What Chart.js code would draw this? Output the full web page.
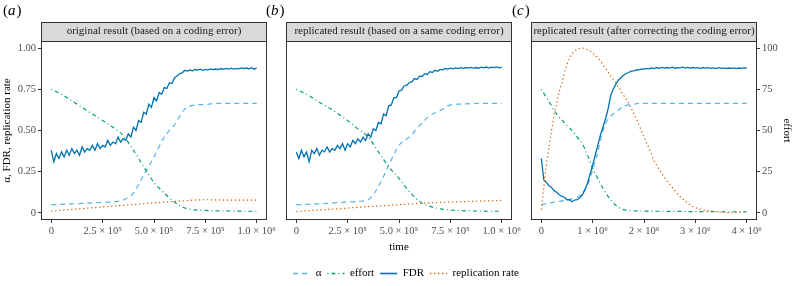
<!DOCTYPE html>
<html>
<head>
<meta charset="utf-8">
<script src="https://cdn.jsdelivr.net/npm/chart.js@4.4.1/dist/chart.umd.min.js"></script>
<style>
  html, body { margin: 0; padding: 0; background: #fff; overflow: hidden; }
  #wrap { position: relative; width: 793px; height: 286px; }
  canvas { position: absolute; left: 0; top: 0; }
</style>
</head>
<body>
<div id="wrap">
  <canvas id="panelA" width="793" height="286"></canvas>
  <canvas id="panelB" width="793" height="286"></canvas>
  <canvas id="panelC" width="793" height="286"></canvas>
  <canvas id="legendBox" width="793" height="60" style="top:240px"></canvas>
</div>
<script>
// ---- data (time in thousands) ----
var timeCoarseAB = [0, 50, 100, 150, 200, 250, 300, 350, 400, 450, 500, 550, 600, 650, 700, 750, 800, 850, 900, 950, 1000];
var timeFineAB = [0, 12.5, 25, 37.5, 50, 62.5, 75, 87.5, 100, 112.5, 125, 137.5, 150, 162.5, 175, 187.5, 200, 212.5, 225, 237.5,
  250, 262.5, 275, 287.5, 300, 312.5, 325, 337.5, 350, 362.5, 375, 387.5, 400, 412.5, 425, 437.5, 450, 462.5, 475, 487.5,
  500, 512.5, 525, 537.5, 550, 562.5, 575, 587.5, 600, 612.5, 625, 637.5, 650, 662.5, 675, 687.5, 700, 712.5, 725, 737.5,
  750, 762.5, 775, 787.5, 800, 812.5, 825, 837.5, 850, 862.5, 875, 887.5, 900, 912.5, 925, 937.5, 950, 962.5, 975, 987.5, 1000];
var timeCoarseC = [0, 100, 200, 300, 400, 500, 600, 700, 800, 900, 1000, 1100, 1200, 1300, 1400, 1500, 1600, 1700, 1800, 1900,
  2000, 2100, 2200, 2300, 2400, 2500, 2600, 2700, 2800, 2900, 3000, 3100, 3200, 3300, 3400, 3500, 3600, 3700, 3800, 3900, 4000];
var timeFineC = [0, 50, 100, 150, 200, 250, 300, 350, 400, 450, 500, 550, 600, 650, 700, 750, 800, 850, 900, 950,
  1000, 1050, 1100, 1150, 1200, 1250, 1300, 1350, 1400, 1450, 1500, 1550, 1600, 1650, 1700, 1750, 1800, 1850, 1900, 1950,
  2000, 2050, 2100, 2150, 2200, 2250, 2300, 2350, 2400, 2450, 2500, 2550, 2600, 2650, 2700, 2750, 2800, 2850, 2900, 2950,
  3000, 3050, 3100, 3150, 3200, 3250, 3300, 3350, 3400, 3450, 3500, 3550, 3600, 3650, 3700, 3750, 3800, 3850, 3900, 3950, 4000];

// (a) original result
var alphaA = [0.050, 0.052, 0.055, 0.058, 0.061, 0.064, 0.068, 0.078, 0.12, 0.23, 0.34, 0.46, 0.535, 0.63, 0.655, 0.658, 0.664, 0.665, 0.665, 0.665, 0.665];
var effortA = [0.75, 0.72, 0.68, 0.64, 0.60, 0.56, 0.52, 0.47, 0.38, 0.28, 0.185, 0.12, 0.065, 0.03, 0.018, 0.015, 0.013, 0.012, 0.011, 0.01, 0.01];
var repA = [0.01, 0.016, 0.021, 0.026, 0.031, 0.036, 0.041, 0.046, 0.051, 0.056, 0.061, 0.066, 0.07, 0.074, 0.078, 0.08, 0.079, 0.078, 0.078, 0.078, 0.078];
var fdrA = [0.38, 0.31, 0.36, 0.33, 0.37, 0.34, 0.38, 0.35, 0.39, 0.36,
  0.38, 0.35, 0.40, 0.37, 0.39, 0.38, 0.41, 0.38, 0.42, 0.39,
  0.41, 0.40, 0.44, 0.41, 0.43, 0.42, 0.46, 0.43, 0.45, 0.44,
  0.48, 0.46, 0.52, 0.50, 0.56, 0.55, 0.61, 0.60, 0.66, 0.64,
  0.70, 0.68, 0.73, 0.72, 0.76, 0.755, 0.79, 0.785, 0.82, 0.83,
  0.845, 0.85, 0.865, 0.86, 0.868, 0.862, 0.870, 0.866, 0.872, 0.865,
  0.871, 0.868, 0.874, 0.869, 0.873, 0.870, 0.876, 0.871, 0.877, 0.872,
  0.878, 0.873, 0.877, 0.874, 0.880, 0.875, 0.879, 0.874, 0.881, 0.872, 0.878];

// (b) replicated result, same coding error
var alphaB = [0.05, 0.052, 0.055, 0.058, 0.062, 0.066, 0.07, 0.08, 0.16, 0.29, 0.41, 0.46, 0.53, 0.59, 0.62, 0.655, 0.66, 0.663, 0.665, 0.665, 0.665];
var effortB = [0.75, 0.72, 0.68, 0.645, 0.605, 0.56, 0.51, 0.46, 0.37, 0.28, 0.21, 0.13, 0.07, 0.04, 0.025, 0.018, 0.014, 0.012, 0.011, 0.01, 0.01];
var repB = [0.008, 0.013, 0.017, 0.021, 0.025, 0.029, 0.034, 0.038, 0.042, 0.046, 0.05, 0.054, 0.058, 0.061, 0.064, 0.066, 0.068, 0.07, 0.072, 0.074, 0.076];
var fdrB = [0.37, 0.33, 0.38, 0.34, 0.37, 0.31, 0.38, 0.36, 0.39, 0.35,
  0.38, 0.37, 0.40, 0.37, 0.39, 0.38, 0.41, 0.39, 0.42, 0.38,
  0.42, 0.40, 0.44, 0.42, 0.45, 0.43, 0.46, 0.44, 0.48, 0.46,
  0.51, 0.50, 0.55, 0.54, 0.60, 0.59, 0.65, 0.655, 0.70, 0.70,
  0.74, 0.745, 0.77, 0.775, 0.79, 0.795, 0.815, 0.81, 0.83, 0.828,
  0.845, 0.84, 0.857, 0.852, 0.866, 0.86, 0.871, 0.868, 0.876, 0.872,
  0.878, 0.874, 0.88, 0.876, 0.881, 0.877, 0.882, 0.878, 0.883, 0.879,
  0.882, 0.878, 0.884, 0.88, 0.885, 0.879, 0.884, 0.881, 0.886, 0.88, 0.884];

// (c) replicated result, coding error corrected
var alphaC = [0.05, 0.056, 0.062, 0.068, 0.073, 0.078, 0.085, 0.095, 0.12, 0.17, 0.26, 0.37, 0.50, 0.57, 0.60, 0.625, 0.645, 0.655, 0.66, 0.664,
  0.665, 0.665, 0.665, 0.665, 0.665, 0.665, 0.665, 0.665, 0.665, 0.665, 0.665, 0.665, 0.665, 0.665, 0.665, 0.665, 0.665, 0.665, 0.665, 0.665, 0.665];
var effortC = [0.75, 0.70, 0.65, 0.60, 0.565, 0.53, 0.50, 0.46, 0.42, 0.35, 0.27, 0.21, 0.15, 0.10, 0.06, 0.035, 0.02, 0.015, 0.013, 0.012,
  0.011, 0.011, 0.01, 0.01, 0.01, 0.009, 0.009, 0.009, 0.009, 0.008, 0.008, 0.008, 0.008, 0.008, 0.007, 0.007, 0.007, 0.007, 0.007, 0.007, 0.007];
var repC = [0.02, 0.29, 0.50, 0.67, 0.79, 0.90, 0.965, 0.993, 1.0, 0.99, 0.97, 0.94, 0.90, 0.855, 0.81, 0.765, 0.715, 0.665, 0.605, 0.535,
  0.46, 0.39, 0.315, 0.26, 0.215, 0.175, 0.135, 0.10, 0.072, 0.048, 0.032, 0.022, 0.015, 0.011, 0.007, 0.004, 0.002, 0.001, 0.002, 0.004, 0.005];
var fdrC = [0.33, 0.20, 0.185, 0.165, 0.155, 0.135, 0.125, 0.11, 0.10, 0.095,
  0.08, 0.08, 0.068, 0.078, 0.08, 0.092, 0.11, 0.14, 0.18, 0.235,
  0.29, 0.35, 0.41, 0.47, 0.52, 0.57, 0.63, 0.71, 0.75, 0.78,
  0.805, 0.82, 0.835, 0.846, 0.852, 0.86, 0.862, 0.867, 0.868, 0.872,
  0.873, 0.877, 0.874, 0.88, 0.876, 0.882, 0.877, 0.883, 0.878, 0.882,
  0.879, 0.884, 0.878, 0.882, 0.88, 0.884, 0.879, 0.883, 0.878, 0.882,
  0.879, 0.881, 0.877, 0.882, 0.878, 0.881, 0.877, 0.88, 0.876, 0.881,
  0.877, 0.88, 0.876, 0.879, 0.877, 0.88, 0.876, 0.879, 0.877, 0.88, 0.878];

var seriesNames = ['α', 'effort', 'FDR', 'replication rate'];
var yTicks = [0, 0.25, 0.5, 0.75, 1];
var yTickLabels = ['0', '0.25', '0.50', '0.75', '1.00'];
var effortTicks = [0, 25, 50, 75, 100];
var effortTickLabels = ['0', '25', '50', '75', '100'];
var xTicksAB = [0, 250000, 500000, 750000, 1000000];
var xTickLabelsAB = ['0', '2.5 × 10⁵', '5.0 × 10⁵', '7.5 × 10⁵', '1.0 × 10⁶'];
var xTicksC = [0, 1000000, 2000000, 3000000, 4000000];
var xTickLabelsC = ['0', '1 × 10⁶', '2 × 10⁶', '3 × 10⁶', '4 × 10⁶'];

// ---- look ----
var col = { alpha: '#56B4E9', effort: '#009E73', fdr: '#0072B2', rep: '#D55E00' };
var dash = { alpha: [5, 4], effort: [1, 3, 4, 3], fdr: [], rep: [1.3, 2.7] };

Chart.defaults.font.family = '"Liberation Serif", "DejaVu Serif", serif';
Chart.defaults.font.size = 10.5;
Chart.defaults.color = '#4d4d4d';

function pts(times, vals) {
  return times.map(function (t, i) { return { x: t * 1000, y: vals[i] }; });
}

function lineSet(key, label, data, smooth) {
  return {
    label: label, data: data,
    borderColor: col[key], backgroundColor: col[key],
    borderDash: dash[key], borderWidth: key === 'fdr' ? 1.3 : 1.2,
    pointRadius: 0, fill: false,
    tension: 0, cubicInterpolationMode: smooth ? 'monotone' : 'default'
  };
}

var tickGrid = { display: true, drawOnChartArea: false, drawTicks: true, tickLength: 3, color: '#333333', lineWidth: 1 };

function xScale(min, max, vals, labels, title) {
  return {
    type: 'linear', min: min, max: max,
    afterBuildTicks: function (s) { s.ticks = vals.map(function (v) { return { value: v }; }); },
    afterFit: function (s) { s.height = title ? 34 : 20; },
    grid: tickGrid, border: { display: false },
    ticks: { autoSkip: false, maxRotation: 0, padding: 2, callback: function (v, i) { return labels[i]; } },
    title: { display: !!title, text: title || '', color: '#000', font: { size: 11 }, padding: { top: 2, bottom: 0 } }
  };
}

function yScale(show) {
  return {
    display: show, min: -0.043, max: 1.043,
    afterBuildTicks: function (s) { s.ticks = yTicks.map(function (v) { return { value: v }; }); },
    afterFit: function (s) { s.width = show ? 41 : 0; },
    grid: tickGrid, border: { display: false },
    ticks: { padding: 2, callback: function (v, i) { return yTickLabels[i]; } },
    title: { display: true, text: 'α, FDR, replication rate', color: '#000', font: { size: 11 }, padding: { top: 1, bottom: 0 } }
  };
}

// panel frame, grey strip and (a)/(b)/(c) tag
var panelFrame = {
  id: 'panelFrame',
  afterDraw: function (chart, args, opts) {
    var ctx = chart.ctx, a = chart.chartArea;
    ctx.save();
    ctx.strokeStyle = '#333333';
    ctx.lineWidth = 1;
    ctx.strokeRect(a.left + 0.5, a.top + 0.5, a.width - 1, a.height - 1);
    ctx.fillStyle = '#d9d9d9';
    ctx.fillRect(a.left, a.top - 19, a.width, 19);
    ctx.strokeRect(a.left + 0.5, a.top - 18.5, a.width - 1, 19);
    ctx.fillStyle = '#1a1a1a';
    ctx.font = '11px "Liberation Serif"';
    ctx.textAlign = 'center';
    ctx.textBaseline = 'middle';
    ctx.fillText(opts.strip, (a.left + a.right) / 2, a.top - 9.5);
    ctx.fillStyle = '#000';
    ctx.textAlign = 'left';
    ctx.textBaseline = 'alphabetic';
    var x = opts.tagX, y = 15;
    ctx.font = '15px "Liberation Serif"';
    ctx.fillText('(', x, y);
    x += ctx.measureText('(').width;
    ctx.font = 'italic 15px "Liberation Serif"';
    ctx.fillText(opts.tag, x, y);
    x += ctx.measureText(opts.tag).width + 1;
    ctx.font = '15px "Liberation Serif"';
    ctx.fillText(')', x, y);
    ctx.restore();
  }
};

function panel(id, sets, scales, pad, strip, tag, tagX) {
  return new Chart(document.getElementById(id), {
    type: 'line',
    data: { datasets: sets },
    options: {
      responsive: false, animation: false,
      layout: { padding: pad },
      scales: scales,
      plugins: { legend: { display: false }, tooltip: { enabled: false },
        panelFrame: { strip: strip, tag: tag, tagX: tagX } }
    },
    plugins: [panelFrame]
  });
}

function setsFor(tc, tf, alpha, effort, fdr, rep) {
  // index 0 is drawn on top
  return [
    lineSet('rep', seriesNames[3], pts(tc, rep), true),
    lineSet('fdr', seriesNames[2], pts(tf, fdr), false),
    lineSet('effort', seriesNames[1], pts(tc, effort), true),
    lineSet('alpha', seriesNames[0], pts(tc, alpha), true)
  ];
}

panel('panelA', setsFor(timeCoarseAB, timeFineAB, alphaA, effortA, fdrA, repA),
  { x: xScale(-50000, 1050000, xTicksAB, xTickLabelsAB), y: yScale(true) },
  { left: 0, right: 526, top: 41, bottom: 46 },
  'original result (based on a coding error)', 'a', 3);

panel('panelB', setsFor(timeCoarseAB, timeFineAB, alphaB, effortB, fdrB, repB),
  { x: xScale(-50000, 1050000, xTicksAB, xTickLabelsAB, 'time'), y: yScale(false) },
  { left: 286, right: 281, top: 41, bottom: 32 },
  'replicated result (based on a same coding error)', 'b', 266);

var scalesC = {
  x: xScale(-200000, 4200000, xTicksC, xTickLabelsC),
  y: yScale(false),
  yR: {
    position: 'right', min: -4.3, max: 104.3,
    afterBuildTicks: function (s) { s.ticks = effortTicks.map(function (v) { return { value: v }; }); },
    afterFit: function (s) { s.width = 36; },
    grid: tickGrid, border: { display: false },
    ticks: { padding: 2, callback: function (v, i) { return effortTickLabels[i]; } },
    title: { display: true, text: 'effort', color: '#000', font: { size: 11 }, padding: { top: 0, bottom: 1 } }
  }
};
panel('panelC', setsFor(timeCoarseC, timeFineC, alphaC, effortC, fdrC, repC),
  scalesC, { left: 531, right: 0, top: 41, bottom: 46 },
  'replicated result (after correcting the coding error)', 'c', 512);

// shared legend; line keys keep each series' dash pattern
new Chart(document.getElementById('legendBox'), {
  type: 'line',
  data: { datasets: [
    lineSet('alpha', seriesNames[0], [], true),
    lineSet('effort', seriesNames[1], [], true),
    lineSet('fdr', seriesNames[2], [], false),
    lineSet('rep', seriesNames[3], [], true)
  ] },
  options: {
    responsive: false, animation: false,
    layout: { padding: { left: 19, right: 0, top: 22, bottom: 0 } },
    scales: { x: { display: false }, y: { display: false } },
    plugins: {
      tooltip: { enabled: false },
      legend: { position: 'top', labels: {
        usePointStyle: true, pointStyle: 'line', pointStyleWidth: 17,
        padding: 6, color: '#000', font: { size: 11 },
        generateLabels: function (chart) {
          var items = Chart.defaults.plugins.legend.labels.generateLabels(chart);
          items.forEach(function (it) {
            var ds = chart.data.datasets[it.datasetIndex];
            it.lineDash = ds.borderDash;
            it.strokeStyle = ds.borderColor;
            it.fillStyle = ds.borderColor;
            it.lineWidth = 1.6;
          });
          return items;
        }
      } }
    }
  }
});
</script>
</body>
</html>
